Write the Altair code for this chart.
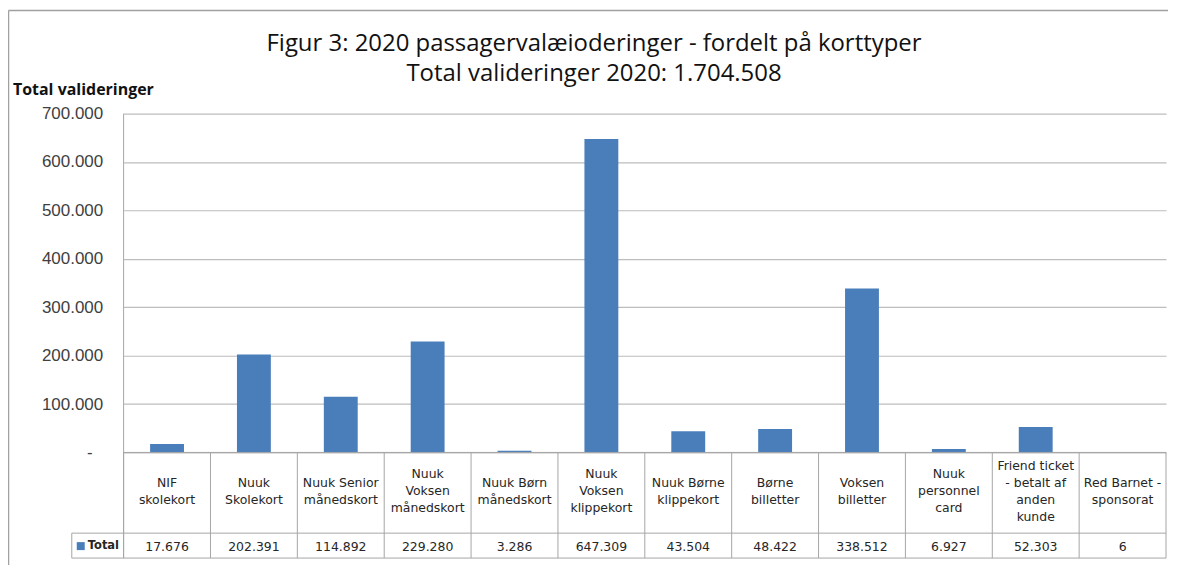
import altair as alt
import pandas as pd

# ---------------- data ----------------
categories = [
    "NIF skolekort", "Nuuk Skolekort", "Nuuk Senior månedskort",
    "Nuuk Voksen månedskort", "Nuuk Børn månedskort", "Nuuk Voksen klippekort",
    "Nuuk Børne klippekort", "Børne billetter", "Voksen billetter",
    "Nuuk personnel card", "Friend ticket - betalt af anden kunde",
    "Red Barnet - sponsorat",
]
cell_labels = [
    "NIF\nskolekort", "Nuuk\nSkolekort", "Nuuk Senior\nmånedskort",
    "Nuuk\nVoksen\nmånedskort", "Nuuk Børn\nmånedskort", "Nuuk\nVoksen\nklippekort",
    "Nuuk Børne\nklippekort", "Børne\nbilletter", "Voksen\nbilletter",
    "Nuuk\npersonnel\ncard", "Friend ticket\n- betalt af\nanden\nkunde",
    "Red Barnet -\nsponsorat",
]
values = [17676, 202391, 114892, 229280, 3286, 647309, 43504, 48422, 338512, 6927, 52303, 6]
y_ticks = [0, 100000, 200000, 300000, 400000, 500000, 600000, 700000]
zero_label = "-"
series_name = "Total"
title_lines = [
    "Figur 3: 2020 passagervalæioderinger - fordelt på korttyper",
    "Total valideringer 2020: 1.704.508",
]
y_title = "Total valideringer"

value_text = [f"{v:,}".replace(",", ".") for v in values]
df = pd.DataFrame({"cat": categories, "label": cell_labels, "value": values, "vtxt": value_text})

# ---------------- layout ----------------
W, H = 1046, 340
ROW1_BOTTOM = H + 81
ROW2_BOTTOM = H + 106
LEG_LEFT = -52
LH = 17
BAR = "#4A7EBB"
GRID = "#BDBDBD"
TLINE = "#A6A6A6"
FRAME = "#A0A0A0"
TXT = "#262626"

one = alt.Data(values=[{}])

xscale = alt.Scale(paddingInner=0, paddingOuter=0)
xenc = alt.X("cat:N", sort=categories, scale=xscale, axis=None)

label_expr = "datum.value == 0 ? '' : replace(format(datum.value, ','), ',', '.')"

base = alt.Chart(df)

bars = base.mark_bar(size=34, color=BAR).encode(
    x=xenc,
    y=alt.Y(
        "value:Q",
        scale=alt.Scale(domain=[0, 700000], nice=False, zero=True),
        axis=alt.Axis(
            values=y_ticks, title=None, grid=True, gridColor=GRID, gridWidth=1.2,
            domain=False, ticks=False, labelPadding=21,
            labelFont="Liberation Sans", labelFontSize=17, labelColor="#404040",
            labelExpr=label_expr,
        ),
    ),
)

zero_txt = alt.Chart(one).mark_text(
    font="Liberation Sans", fontSize=17, color="#404040", align="center", baseline="middle"
).encode(x=alt.value(-34), y=alt.value(H + 1), text=alt.value(zero_label))

col_lines = base.mark_rule(color=TLINE, strokeWidth=1).encode(
    x=alt.X("cat:N", sort=categories, scale=xscale, axis=None, bandPosition=0),
    y=alt.value(H), y2=alt.value(ROW2_BOTTOM),
)

# multi-line cell labels, vertically centred in the label row
cell_text = base.transform_calculate(
    nl="length(split(datum.label, '\\n'))",
    ty=f"379 - (datum.nl - 1) * {LH / 2}",
).mark_text(
    lineBreak="\n", lineHeight=LH, font="DejaVu Sans", fontSize=12.5,
    color=TXT, baseline="middle", align="center",
).encode(
    x=xenc,
    y=alt.Y("ty:Q", scale=alt.Scale(domain=[0, H], range=[0, H], nice=False, zero=False), axis=None),
    text="label:N",
)

val_text = base.mark_text(
    font="DejaVu Sans", fontSize=12.5, color=TXT,
    baseline="middle", align="center",
).encode(x=xenc, y=alt.value(435), text="vtxt:N")


def rule(**kw):
    return alt.Chart(one).mark_rule(color=kw.pop("color", TLINE), strokeWidth=kw.pop("sw", 1)).encode(
        **{k: alt.value(v) for k, v in kw.items()}
    )


table_rules = [
    rule(x=0, x2=W, y=H),
    rule(x=LEG_LEFT, x2=W, y=ROW1_BOTTOM),
    rule(x=LEG_LEFT, x2=W, y=ROW2_BOTTOM),
    rule(x=0, y=0, y2=ROW2_BOTTOM),
    rule(x=W, y=H, y2=ROW2_BOTTOM),
    rule(x=LEG_LEFT, y=ROW1_BOTTOM, y2=ROW2_BOTTOM),
    rule(x=-115.5, y=-103.5, y2=453, color=FRAME, sw=1.5),
    rule(x=-115.5, x2=1048, y=-103.5, color=FRAME, sw=1.5),
]

legend_sq = alt.Chart(one).mark_square(size=64, color=BAR, opacity=1).encode(
    x=alt.value(-43), y=alt.value(434)
)
legend_txt = alt.Chart(one).mark_text(
    font="DejaVu Sans", fontSize=11.5, fontWeight="bold", color=TXT,
    align="left", baseline="middle",
).encode(x=alt.value(-36), y=alt.value(434), text=alt.value(series_name))

t1 = alt.Chart(one).mark_text(
    font="Open Sans", fontSize=24, color="#111111", align="center", baseline="alphabetic"
).encode(x=alt.value(472), y=alt.value(-63), text=alt.value(title_lines[0]))
t2 = alt.Chart(one).mark_text(
    font="Open Sans", fontSize=24, color="#111111", align="center", baseline="alphabetic"
).encode(x=alt.value(472), y=alt.value(-33), text=alt.value(title_lines[1]))
ytitle = alt.Chart(one).mark_text(
    font="Open Sans", fontSize=16, fontWeight="bold", color="#111111", align="left", baseline="alphabetic"
).encode(x=alt.value(-111), y=alt.value(-19), text=alt.value(y_title))

chart = alt.layer(
    bars, col_lines, *table_rules, cell_text, val_text, zero_txt,
    legend_sq, legend_txt, t1, t2, ytitle
).resolve_scale(
    y="independent"
).properties(
    width=W, height=H,
    autosize=alt.AutoSizeParams(type="none"),
    padding={"left": 116, "top": 105, "right": 6, "bottom": 113},
    background="white",
).configure_view(stroke=None)

chart.save("out.html", embed_options={"renderer": "svg", "actions": False})
